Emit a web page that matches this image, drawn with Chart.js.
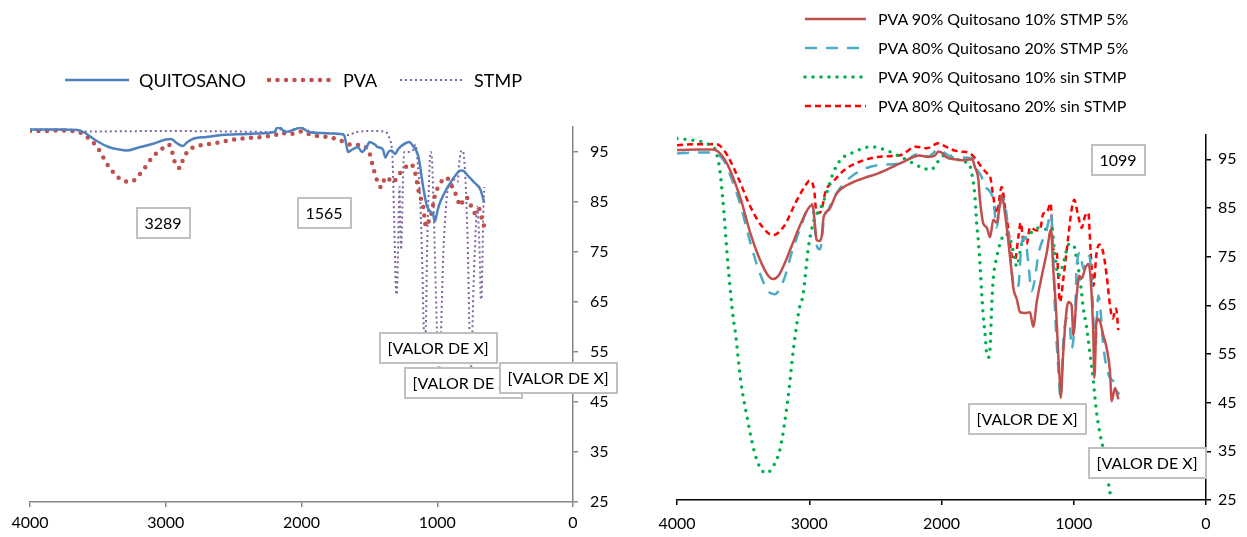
<!DOCTYPE html>
<html>
<head>
<meta charset="utf-8">
<script src="https://cdn.jsdelivr.net/npm/chart.js@4.4.1/dist/chart.umd.min.js"></script>
<style>
  html, body { margin: 0; padding: 0; background: #fff; }
  #wrap { position: relative; width: 1247px; height: 537px; overflow: hidden; font-family: Lato, "Open Sans", sans-serif; }
  canvas { position: absolute; top: 0; }
  #c1 { left: 0; }
  #c2 { left: 640px; }
  .legend { position: absolute; color: #000; }
  .legend .item { display: flex; align-items: center; white-space: nowrap; }
  .legend svg { display: block; }
  #leg1 { left: 63px; top: 69px; display: flex; font-size: 18px; }
  #leg1 .item { margin-right: 21px; height: 22px; }
  #leg1 svg { margin-right: 8px; }
  #leg2 { left: 803px; top: 4px; font-size: 16px; }
  #leg2 .item { height: 29px; }
  #leg2 svg { margin-right: 10px; }
</style>
</head>
<body>
<div id="wrap">
  <canvas id="c1" width="640" height="537"></canvas>
  <canvas id="c2" width="607" height="537"></canvas>
  <div id="leg1" class="legend"></div>
  <div id="leg2" class="legend"></div>
</div>
<script>
// ---- left panel: raw materials (wavenumber cm-1 / %T) ----
const quitosanoX = [4000, 3800, 3650, 3600, 3520, 3420, 3345, 3287, 3200, 3100, 3000, 2960, 2920, 2874, 2840, 2793, 2700, 2589, 2400, 2327, 2200, 2182, 2160, 2124, 2050, 2007, 1980, 1949, 1850, 1716, 1687, 1670, 1658, 1620, 1585, 1555, 1520, 1498, 1460, 1440, 1400, 1382, 1360, 1338, 1309, 1290, 1265, 1230, 1207, 1178, 1150, 1135, 1105, 1076, 1047, 1030, 1018, 1000, 989, 945, 902, 858, 829, 800, 785, 727, 684, 665, 655];
const quitosanoY = [99.5, 99.5, 99.4, 98.9, 97.4, 96.0, 95.5, 95.3, 95.9, 96.6, 97.5, 97.6, 96.8, 96.2, 97.0, 97.7, 98.0, 98.4, 98.6, 98.7, 99.0, 99.8, 99.9, 99.0, 99.5, 99.9, 99.6, 99.0, 98.8, 98.6, 98.4, 96.5, 95.0, 95.6, 96.0, 95.0, 96.0, 97.0, 96.5, 96.0, 95.5, 93.9, 95.0, 95.3, 94.6, 95.5, 96.2, 96.8, 97.0, 96.2, 95.0, 93.6, 88.2, 84.2, 83.0, 82.5, 81.1, 83.0, 84.2, 86.9, 88.9, 90.6, 91.3, 91.1, 90.6, 88.9, 87.6, 86.0, 84.9];

const pvaX = [4000, 3900, 3800, 3700, 3640, 3580, 3505, 3462, 3418, 3375, 3320, 3289, 3244, 3200, 3142, 3098, 3040, 2982, 2960, 2940, 2920, 2894, 2874, 2836, 2764, 2647, 2473, 2298, 2182, 2150, 2100, 2036, 2000, 1950, 1891, 1800, 1745, 1687, 1629, 1580, 1542, 1510, 1498, 1469, 1440, 1411, 1390, 1367, 1345, 1324, 1300, 1280, 1250, 1222, 1193, 1164, 1135, 1105, 1082, 1065, 1047, 1018, 975, 931, 902, 873, 850, 829, 800, 780, 756, 727, 698, 669, 655];
const pvaY = [99.2, 99.2, 99.3, 99.2, 99.0, 98.0, 96.0, 94.0, 92.0, 90.6, 89.3, 89.1, 89.2, 90.3, 92.3, 94.0, 95.3, 96.5, 95.8, 93.5, 92.2, 91.8, 93.4, 95.2, 96.2, 96.7, 97.6, 98.0, 98.5, 98.9, 98.5, 98.9, 99.1, 98.6, 98.2, 98.0, 97.6, 97.0, 96.4, 96.4, 96.2, 95.5, 94.7, 91.6, 89.1, 87.9, 89.5, 90.0, 89.2, 88.9, 89.8, 90.6, 91.5, 92.2, 92.6, 90.9, 86.9, 84.2, 80.1, 81.0, 82.2, 86.2, 88.9, 89.9, 88.6, 87.2, 85.5, 84.2, 85.9, 85.8, 84.5, 82.8, 83.9, 81.5, 80.1];

const stmpX = [4000, 3800, 3650, 3600, 3000, 2500, 2200, 2150, 2100, 2030, 1980, 1900, 1750, 1650, 1600, 1450, 1380, 1350, 1330, 1318, 1305, 1298, 1290, 1283, 1278, 1272, 1266, 1260, 1252, 1243, 1200, 1175, 1160, 1145, 1125, 1110, 1100, 1092, 1084, 1075, 1062, 1050, 1040, 1028, 1015, 1003, 993, 985, 975, 965, 955, 943, 930, 918, 895, 870, 850, 840, 828, 812, 800, 785, 775, 765, 758, 752, 745, 735, 722, 712, 705, 695, 685, 680, 675, 668, 660, 652];
const stmpY = [99.5, 99.5, 99.4, 99.1, 99.2, 99.1, 99.0, 99.6, 99.0, 99.8, 99.5, 98.9, 98.7, 98.4, 99.0, 99.2, 99.0, 97.5, 94.0, 82.0, 68.0, 66.5, 74.0, 84.0, 88.0, 80.0, 75.5, 80.0, 90.0, 95.0, 95.0, 95.5, 96.5, 93.0, 85.0, 72.0, 60.0, 56.0, 60.0, 75.0, 88.0, 95.0, 94.0, 85.0, 72.0, 60.0, 52.0, 51.5, 56.0, 66.0, 75.0, 81.0, 86.0, 88.0, 88.5, 89.5, 89.0, 92.0, 95.0, 95.3, 93.0, 85.0, 76.0, 62.0, 53.0, 51.5, 55.0, 66.0, 76.0, 82.0, 84.0, 80.0, 72.0, 66.0, 65.5, 72.0, 84.0, 88.0];

// ---- right panel: films ----
const f1X = [4000, 3850, 3730, 3690, 3640, 3588, 3517, 3446, 3375, 3318, 3275, 3230, 3180, 3133, 3062, 3005, 2975, 2955, 2945, 2925, 2906, 2892, 2849, 2792, 2707, 2593, 2479, 2365, 2280, 2166, 2100, 2050, 2024, 1990, 1967, 1900, 1840, 1768, 1747, 1722, 1709, 1684, 1658, 1633, 1608, 1583, 1545, 1520, 1494, 1468, 1456, 1431, 1406, 1369, 1331, 1306, 1280, 1242, 1205, 1172, 1155, 1134, 1117, 1104, 1099, 1079, 1053, 1041, 1016, 1003, 978, 958, 940, 915, 890, 872, 852, 844, 827, 801, 777, 751, 726, 713, 688, 663];
const f1Y = [96.9, 97.0, 97.0, 96.6, 95.0, 92.1, 86.7, 79.9, 74.5, 71.4, 70.4, 71.2, 74.0, 77.2, 81.9, 85.0, 85.6, 81.0, 78.5, 78.2, 79.2, 83.0, 84.7, 88.0, 89.8, 91.1, 92.1, 93.5, 94.6, 95.8, 95.5, 95.8, 96.6, 96.2, 95.5, 95.0, 94.8, 95.0, 93.4, 91.0, 86.6, 81.8, 81.0, 79.0, 82.6, 82.0, 87.6, 83.9, 78.0, 71.5, 68.4, 66.3, 63.6, 63.4, 63.6, 60.6, 65.7, 71.0, 75.7, 80.6, 72.5, 64.3, 54.8, 48.7, 46.0, 55.5, 64.3, 65.7, 65.0, 58.9, 67.0, 71.1, 70.5, 72.5, 73.5, 70.4, 58.9, 50.1, 62.3, 61.6, 58.9, 56.2, 51.4, 45.3, 48.0, 45.7];

const f2X = [4000, 3850, 3730, 3690, 3640, 3588, 3517, 3446, 3375, 3304, 3261, 3190, 3133, 3062, 3005, 2977, 2955, 2940, 2920, 2906, 2892, 2849, 2778, 2650, 2479, 2308, 2166, 2100, 2024, 1960, 1910, 1768, 1734, 1697, 1671, 1646, 1608, 1583, 1558, 1532, 1494, 1468, 1444, 1419, 1394, 1369, 1343, 1318, 1293, 1268, 1230, 1205, 1172, 1155, 1142, 1117, 1099, 1079, 1053, 1028, 1016, 990, 978, 953, 927, 902, 882, 857, 839, 814, 801, 777, 751, 726, 700, 675, 655];
const f2Y = [96.2, 96.4, 96.4, 96.0, 94.5, 91.1, 85.3, 77.9, 71.7, 67.7, 67.3, 70.4, 75.8, 81.3, 85.3, 85.8, 80.0, 77.0, 76.5, 78.0, 82.0, 85.0, 88.7, 92.1, 93.8, 94.2, 96.2, 95.6, 97.0, 96.0, 95.4, 95.2, 93.0, 91.4, 89.3, 88.8, 86.6, 81.0, 85.5, 86.9, 80.0, 71.5, 68.4, 69.0, 77.8, 79.0, 73.5, 67.9, 70.6, 75.4, 78.8, 80.5, 84.0, 75.0, 64.3, 52.1, 46.0, 57.5, 62.3, 60.3, 56.2, 63.0, 72.5, 75.8, 72.5, 74.0, 75.2, 65.7, 55.5, 67.0, 65.0, 56.9, 52.1, 50.1, 49.4, 47.4, 46.7];

const f3X = [4000, 3900, 3787, 3740, 3716, 3690, 3673, 3645, 3616, 3574, 3559, 3517, 3474, 3417, 3375, 3326, 3275, 3218, 3161, 3119, 3076, 3048, 3005, 2963, 2920, 2877, 2820, 2763, 2650, 2536, 2422, 2308, 2237, 2138, 2081, 2040, 2010, 1967, 1900, 1840, 1797, 1772, 1747, 1734, 1722, 1709, 1697, 1684, 1671, 1658, 1646, 1633, 1620, 1608, 1583, 1558, 1520, 1480, 1457, 1431, 1394, 1331, 1255, 1205, 1167, 1142, 1117, 1091, 1066, 1041, 1003, 978, 953, 927, 902, 877, 852, 832, 801, 773, 745, 718];
const f3Y = [99.3, 99.0, 98.4, 97.8, 97.3, 95.0, 92.1, 84.0, 73.8, 62.2, 59.5, 49.3, 42.6, 35.1, 31.8, 30.5, 31.8, 35.8, 45.9, 56.1, 64.2, 67.0, 77.2, 82.6, 84.7, 87.4, 92.1, 94.9, 96.6, 97.6, 96.9, 95.5, 94.5, 93.2, 92.8, 94.0, 95.2, 95.9, 95.3, 94.5, 94.3, 92.2, 87.3, 81.8, 78.4, 73.5, 68.0, 62.6, 59.2, 55.0, 54.3, 56.0, 65.1, 70.6, 74.8, 77.6, 79.7, 78.5, 76.0, 73.0, 77.6, 79.7, 81.0, 80.6, 80.9, 75.2, 71.1, 72.5, 75.0, 77.5, 77.5, 74.5, 70.4, 64.3, 60.3, 55.0, 49.5, 44.0, 38.5, 35.0, 29.7, 25.3];

const f4X = [4000, 3850, 3702, 3645, 3588, 3531, 3446, 3360, 3275, 3190, 3105, 3034, 2997, 2963, 2945, 2925, 2906, 2877, 2820, 2735, 2621, 2479, 2308, 2195, 2109, 2024, 1967, 1900, 1854, 1784, 1734, 1697, 1658, 1633, 1608, 1583, 1545, 1520, 1494, 1468, 1444, 1419, 1401, 1381, 1356, 1331, 1280, 1255, 1230, 1205, 1175, 1155, 1129, 1104, 1079, 1041, 1016, 996, 966, 940, 915, 890, 872, 852, 827, 807, 777, 751, 726, 706, 680, 663];
const f4Y = [97.9, 98.1, 98.1, 96.9, 94.2, 90.8, 85.3, 81.3, 79.4, 81.3, 86.0, 89.4, 90.6, 88.7, 84.0, 84.0, 84.7, 88.4, 90.4, 92.8, 94.5, 95.5, 95.9, 97.6, 97.3, 98.3, 97.6, 96.8, 96.6, 96.2, 94.8, 93.4, 92.2, 91.5, 87.3, 83.9, 89.3, 85.2, 80.4, 75.1, 74.4, 79.0, 82.0, 78.2, 77.6, 81.0, 80.4, 80.6, 83.9, 84.0, 86.0, 76.5, 75.8, 65.7, 70.4, 79.2, 84.7, 86.7, 83.3, 80.9, 83.3, 84.0, 75.8, 69.0, 75.8, 77.5, 75.8, 71.1, 65.0, 62.3, 64.3, 59.9];

const yTickValues = [25, 35, 45, 55, 65, 75, 85, 95];

// boxed data labels (text, wavenumber, %T)
const leftNotes = ['3289', '1565', '[VALOR DE X]', '[VALOR DE X]', '[VALOR DE X]'];
const leftNoteX = [3020, 1834, 994, 810, 110];
const leftNoteY = [80.8, 82.8, 55.8, 48.8, 49.8];
const rightNotes = ['1099', '[VALOR DE X]', '[VALOR DE X]'];
const rightNoteX = [665, 1353, 446];
const rightNoteY = [94.8, 41.6, 32.6];

Chart.defaults.font.family = 'Lato, "Open Sans", sans-serif';

function pts(xs, ys) {
  return xs.map((x, i) => ({ x: x, y: ys[i] }));
}

function series(label, xs, ys, color, width, dash, cap) {
  return {
    label: label,
    data: pts(xs, ys),
    borderColor: color,
    backgroundColor: color,
    borderWidth: width,
    borderDash: dash,
    borderCapStyle: cap,
    pointRadius: 0,
    fill: false,
    cubicInterpolationMode: 'monotone'
  };
}

// draws the grey boxed labels, anchored on data coordinates
const boxLabels = {
  id: 'boxLabels',
  afterDraw(chart, args, opts) {
    const ctx = chart.ctx;
    const sx = chart.scales.x, sy = chart.scales.y;
    ctx.save();
    ctx.font = '16px Lato, "Open Sans", sans-serif';
    ctx.textAlign = 'center';
    ctx.textBaseline = 'middle';
    opts.texts.forEach(function(t, i) {
      const px = sx.getPixelForValue(opts.xs[i]);
      const py = sy.getPixelForValue(opts.ys[i]);
      const w = Math.round(ctx.measureText(t).width + 16);
      const h = 30;
      const left = Math.round(px - w / 2), top = Math.round(py - h / 2);
      ctx.fillStyle = '#fff';
      ctx.fillRect(left, top, w, h);
      ctx.strokeStyle = '#BFBFBF';
      ctx.lineWidth = 2;
      ctx.strokeRect(left, top, w, h);
      ctx.fillStyle = '#000';
      ctx.fillText(t, px, py + 1);
    });
    ctx.restore();
  }
};

function makeOptions(cfg) {
  return {
    responsive: false,
    animation: false,
    devicePixelRatio: 1,
    layout: { padding: cfg.padding },
    plugins: {
      legend: { display: false },
      tooltip: { enabled: false },
      boxLabels: { texts: cfg.texts, xs: cfg.xs, ys: cfg.ys }
    },
    scales: {
      x: {
        type: 'linear',
        reverse: true,
        min: 0,
        max: 4000,
        ticks: {
          stepSize: 1000,
          color: '#000',
          font: { size: 16 },
          padding: cfg.xPad,
          maxRotation: 0,
          callback: function(v) { return String(v); }
        },
        grid: { drawOnChartArea: false, drawTicks: true, tickLength: 5, color: cfg.axisColor, lineWidth: 1.5 },
        border: { color: cfg.axisColor, width: 1.5 },
        afterFit: function(s) { s.height = cfg.xHeight; }
      },
      y: {
        position: 'right',
        min: 25,
        max: 100,
        afterBuildTicks: function(s) { s.ticks = yTickValues.map(v => ({ value: v })); },
        ticks: { color: '#000', font: { size: 16 }, padding: cfg.yPad },
        grid: { drawOnChartArea: false, drawTicks: true, tickLength: 5, color: cfg.axisColor, lineWidth: 1.5 },
        border: { color: cfg.axisColor, width: 1.5 },
        afterFit: function(s) { s.width = cfg.yWidth; }
      }
    }
  };
}

const leftSets = [
  series('QUITOSANO', quitosanoX, quitosanoY, '#4F81BD', 2.5, [], 'butt'),
  series('PVA', pvaX, pvaY, '#C0504D', 4.5, [0, 8.5], 'round'),
  series('STMP', stmpX, stmpY, '#8064A2', 2, [2, 3], 'butt')
];

const rightSets = [
  series('PVA 90% Quitosano 10% STMP 5%', f1X, f1Y, '#C0504D', 2.5, [], 'butt'),
  series('PVA 80% Quitosano 20% STMP 5%', f2X, f2Y, '#4BACC6', 2.5, [12, 9], 'butt'),
  series('PVA 90% Quitosano 10% sin STMP', f3X, f3Y, '#00B050', 3.5, [0, 8], 'round'),
  series('PVA 80% Quitosano 20% sin STMP', f4X, f4Y, '#FF0000', 2.5, [6, 4], 'butt')
];

new Chart(document.getElementById('c1'), {
  type: 'line',
  data: { datasets: leftSets },
  options: makeOptions({
    padding: { left: 30, right: 10, top: 127, bottom: 0 },
    axisColor: '#868686', xHeight: 35, yWidth: 57, yPad: 12, xPad: 6,
    texts: leftNotes, xs: leftNoteX, ys: leftNoteY
  }),
  plugins: [boxLabels]
});

new Chart(document.getElementById('c2'), {
  type: 'line',
  data: { datasets: rightSets },
  options: makeOptions({
    padding: { left: 37, right: 0, top: 135, bottom: 0 },
    axisColor: '#000', xHeight: 37, yWidth: 41, yPad: 7, xPad: 9,
    texts: rightNotes, xs: rightNoteX, ys: rightNoteY
  }),
  plugins: [boxLabels]
});

// html legends, drawn with the same stroke styles as the datasets
function buildLegend(el, sets, w) {
  sets.forEach(function(d) {
    const item = document.createElement('div');
    item.className = 'item';
    const dash = d.borderDash.length ? d.borderDash.join(' ') : 'none';
    item.innerHTML = '<svg width="' + w + '" height="10"><line x1="2" y1="5" x2="' + (w - 2) + '" y2="5" stroke="' + d.borderColor +
      '" stroke-width="' + d.borderWidth + '" stroke-dasharray="' + dash + '" stroke-linecap="' + d.borderCapStyle + '"/></svg>';
    const span = document.createElement('span');
    span.textContent = d.label;
    item.appendChild(span);
    el.appendChild(item);
  });
}
buildLegend(document.getElementById('leg1'), leftSets, 68);
buildLegend(document.getElementById('leg2'), rightSets, 65);
</script>
</body>
</html>
